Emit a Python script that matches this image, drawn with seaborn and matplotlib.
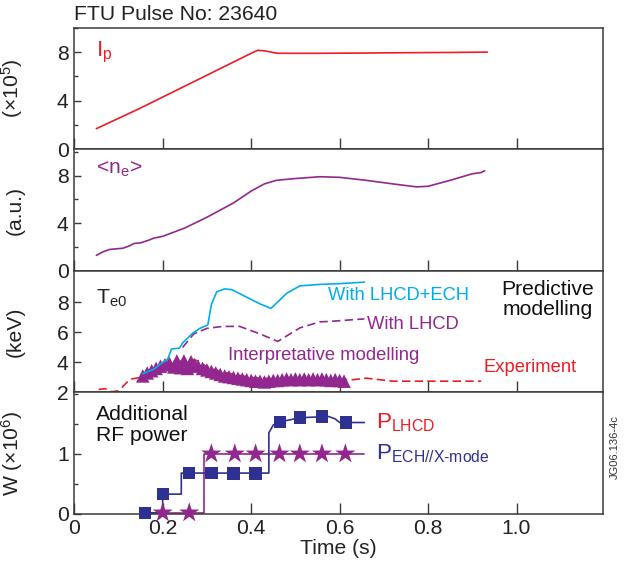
import numpy as np
import pandas as pd
import matplotlib
matplotlib.use('Agg')
import matplotlib.pyplot as plt
import seaborn as sns
from matplotlib.ticker import MultipleLocator

# colours taken off the figure
RED = '#ED1C24'
PURPLE = '#92278F'
CYAN = '#00AEEF'
NAVY = '#2E3192'
AXC = '#3a3a3a'

# --- panel 1: plasma current
ip_t = [0.05, 0.10, 0.15, 0.20, 0.25, 0.30, 0.35, 0.40, 0.415, 0.43, 0.46, 0.55, 0.65, 0.75, 0.85, 0.934]
ip_v = [1.7, 2.55, 3.4, 4.3, 5.2, 6.1, 7.0, 7.9, 8.15, 8.1, 7.9, 7.9, 7.92, 7.95, 7.97, 8.0]

# --- panel 2: line-averaged density
ne_t = [0.05, 0.065, 0.08, 0.11, 0.125, 0.135, 0.15, 0.17, 0.18, 0.20, 0.25, 0.30, 0.36,
        0.40, 0.43, 0.457, 0.50, 0.555, 0.60, 0.66, 0.72, 0.774, 0.80, 0.85, 0.90, 0.92, 0.928]
ne_v = [1.3, 1.6, 1.8, 1.9, 2.1, 2.3, 2.35, 2.6, 2.75, 2.9, 3.6, 4.5, 5.7,
        6.7, 7.3, 7.6, 7.75, 7.9, 7.85, 7.6, 7.3, 7.05, 7.1, 7.6, 8.15, 8.25, 8.4]

# --- panel 3: central electron temperature
ech_t = [0.155, 0.18, 0.198, 0.211, 0.22, 0.238, 0.245, 0.268, 0.284, 0.302, 0.31, 0.322,
         0.34, 0.356, 0.42, 0.445, 0.48, 0.51, 0.555, 0.60, 0.656]
ech_v = [3.25, 3.55, 3.97, 4.2, 4.9, 4.95, 5.3, 5.95, 6.27, 6.5, 7.85, 8.7,
         8.9, 8.85, 7.9, 7.6, 8.6, 9.1, 9.2, 9.25, 9.35]

lh_t = [0.245, 0.27, 0.30, 0.336, 0.374, 0.42, 0.46, 0.51, 0.555, 0.585, 0.656]
lh_v = [5.0, 5.9, 6.27, 6.4, 6.4, 5.9, 5.4, 6.3, 6.7, 6.75, 6.9]

exp_t = [0.055, 0.07, 0.085, 0.10, 0.12, 0.13, 0.15, 0.17, 0.20, 0.23, 0.26, 0.28, 0.30,
         0.33, 0.36, 0.40, 0.45, 0.50, 0.55, 0.60, 0.63, 0.66, 0.69, 0.72, 0.80, 0.92]
exp_v = [2.2, 2.25, 2.05, 2.1, 2.7, 2.9, 3.0, 3.1, 3.5, 4.0, 4.25, 4.1, 3.7,
         3.4, 3.2, 3.0, 2.9, 2.9, 2.9, 2.85, 2.85, 2.95, 2.85, 2.75, 2.75, 2.75]

int_t = [0.155, 0.165, 0.175, 0.185, 0.195, 0.205, 0.215, 0.225, 0.232, 0.24, 0.248, 0.256,
         0.264, 0.272, 0.28, 0.29, 0.30, 0.31, 0.32, 0.33, 0.34, 0.35, 0.36, 0.37, 0.38,
         0.39, 0.40, 0.41, 0.42, 0.43, 0.44, 0.45, 0.46, 0.47, 0.48, 0.49, 0.50, 0.51,
         0.52, 0.53, 0.54, 0.55, 0.56, 0.57, 0.58, 0.59, 0.60, 0.61]
int_v = [3.1, 3.3, 3.45, 3.6, 3.75, 3.85, 3.95, 3.7, 4.1, 3.65, 4.1, 3.6,
         4.05, 3.85, 3.75, 3.6, 3.5, 3.4, 3.3, 3.2, 3.1, 3.05, 3.0, 2.95, 2.9,
         2.85, 2.8, 2.75, 2.75, 2.7, 2.75, 2.8, 2.8, 2.85, 2.9, 2.85, 2.9, 2.85,
         2.9, 2.85, 2.9, 2.85, 2.9, 2.85, 2.8, 2.85, 2.8, 2.75]

# --- panel 4: additional RF power (step traces + sample markers)
lhcd_line_t = [0.155, 0.20, 0.20, 0.242, 0.242, 0.44, 0.44, 0.45, 0.465, 0.51, 0.575, 0.59, 0.60, 0.656]
lhcd_line_v = [0.02, 0.02, 0.33, 0.33, 0.68, 0.68, 1.35, 1.48, 1.53, 1.6, 1.62, 1.58, 1.52, 1.52]
lhcd_mk_t = [0.16, 0.20, 0.26, 0.31, 0.36, 0.41, 0.465, 0.51, 0.56, 0.615]
lhcd_mk_v = [0.02, 0.33, 0.68, 0.68, 0.67, 0.67, 1.53, 1.6, 1.62, 1.52]

ech_line_t = [0.17, 0.293, 0.293, 0.655]
ech_line_v = [0.02, 0.02, 1.0, 1.0]
ech_mk_t = [0.20, 0.26, 0.31, 0.363, 0.41, 0.464, 0.51, 0.56, 0.613]
ech_mk_v = [0.02, 0.02, 1.0, 1.0, 1.0, 1.0, 1.0, 1.0, 1.0]

sns.set_theme(style='ticks')
plt.rcParams['font.family'] = ['Liberation Sans', 'DejaVu Sans']
plt.rcParams['mathtext.fontset'] = 'custom'
plt.rcParams['mathtext.rm'] = 'Liberation Sans'
plt.rcParams['mathtext.it'] = 'Liberation Sans'
plt.rcParams['axes.edgecolor'] = AXC
plt.rcParams['axes.linewidth'] = 1.1

fig, axes = plt.subplots(4, 1, figsize=(6.24, 5.67), dpi=100, sharex=True)
fig.subplots_adjust(left=0.119, right=0.966, top=0.951, bottom=0.0935, hspace=0)
ax1, ax2, ax3, ax4 = axes

FS = 15.2
FA = 13.2
dash = (0, (5, 2.6))


def line(ax, t, v, color, **kw):
    df = pd.DataFrame({'t': t, 'v': v})
    sns.lineplot(data=df, x='t', y='v', ax=ax, color=color, estimator=None,
                 sort=False, linewidth=1.2, **kw)


line(ax1, ip_t, ip_v, RED)
line(ax2, ne_t, ne_v, PURPLE)

line(ax3, exp_t, exp_v, RED, linestyle=dash)
sns.scatterplot(x=int_t, y=int_v, ax=ax3, marker='^', s=95, color=PURPLE,
                edgecolor='none', zorder=3)
line(ax3, lh_t, lh_v, PURPLE, linestyle=dash)
line(ax3, ech_t, ech_v, CYAN, zorder=4)

line(ax4, ech_line_t, ech_line_v, PURPLE)
line(ax4, lhcd_line_t, lhcd_line_v, NAVY)
sns.scatterplot(x=ech_mk_t, y=ech_mk_v, ax=ax4, marker='*', s=230, color=PURPLE,
                edgecolor='none', zorder=4, clip_on=False)
sns.scatterplot(x=lhcd_mk_t, y=lhcd_mk_v, ax=ax4, marker='s', s=80, color=NAVY,
                edgecolor='none', zorder=5, clip_on=False)

# axes limits and ticks
ax4.set_xlim(0, 1.195)
ax4.set_xticks([0, 0.2, 0.4, 0.6, 0.8, 1.0])
ax4.set_xticklabels(['0', '0.2', '0.4', '0.6', '0.8', '1.0'])

ax1.set_ylim(0, 10)
ax1.set_yticks([0, 4, 8])
ax1.yaxis.set_minor_locator(MultipleLocator(2))
ax2.set_ylim(0, 10.2)
ax2.set_yticks([0, 4, 8])
ax2.yaxis.set_minor_locator(MultipleLocator(2))
ax3.set_ylim(2, 10.1)
ax3.set_yticks([2, 4, 6, 8])
ax4.set_ylim(0, 2.02)
ax4.set_yticks([0, 1])
ax4.yaxis.set_minor_locator(MultipleLocator(0.5))

ylabels = ['(×10$^5$)', '(a.u.)', '(keV)', 'W (×10$^6$)']
for ax, lab in zip(axes, ylabels):
    for s in ax.spines.values():
        s.set_visible(True)
        s.set_color(AXC)
    ax.tick_params(axis='x', which='major', direction='in', length=8, width=1,
                   colors=AXC, labelcolor='#222222', labelsize=FS)
    ax.tick_params(axis='y', which='major', direction='in', length=5, width=1,
                   colors=AXC, labelcolor='#222222', labelsize=FS, pad=4)
    ax.tick_params(axis='y', which='minor', direction='in', length=3, width=1, colors=AXC)
    ax.set_ylabel(lab, fontsize=FS, color='#222222')
    ax.yaxis.set_label_coords(-0.094, 0.5)
    ax.set_xlabel('')

ax4.set_xlabel('Time (s)', fontsize=FS, color='#222222', labelpad=1)

# annotations
fig.text(0.119, 0.958, 'FTU Pulse No: 23640', fontsize=FS, color='#222222', va='bottom')
ax1.text(0.05, 8.0, 'I$_\\mathregular{p}$', color=RED, fontsize=FS + 1, va='center')
ax2.text(0.05, 8.5, '<n$_\\mathregular{e}$>', color=PURPLE, fontsize=FS, va='center')
ax3.text(0.05, 8.3, 'T$_\\mathregular{e0}$', color='#222222', fontsize=FS, va='center')
ax3.text(0.573, 8.45, 'With LHCD+ECH', color=CYAN, fontsize=FA, va='center')
ax3.text(0.663, 6.5, 'With LHCD', color=PURPLE, fontsize=FA, va='center')
ax3.text(0.347, 4.45, 'Interpretative modelling', color=PURPLE, fontsize=FA, va='center')
ax3.text(0.925, 3.65, 'Experiment', color=RED, fontsize=FA, va='center')
ax3.text(1.07, 8.2, 'Predictive\nmodelling', color='#111111', fontsize=FS,
         ha='center', va='center', linespacing=1.1)
ax4.text(0.05, 1.48, 'Additional\nRF power', color='#111111', fontsize=FS,
         va='center', linespacing=1.15)
ax4.text(0.683, 1.52, 'P$_\\mathregular{LHCD}$', color=RED, fontsize=FS + 1, va='center')
ax4.text(0.683, 1.0, 'P$_\\mathregular{ECH//X\\text{-}mode}$', color=NAVY, fontsize=FS + 1, va='center')
fig.text(0.977, 0.155, 'JG06.136-4c', rotation=90, fontsize=8, color='#333333',
         ha='left', va='bottom')

fig.savefig('out.png', dpi=100)
